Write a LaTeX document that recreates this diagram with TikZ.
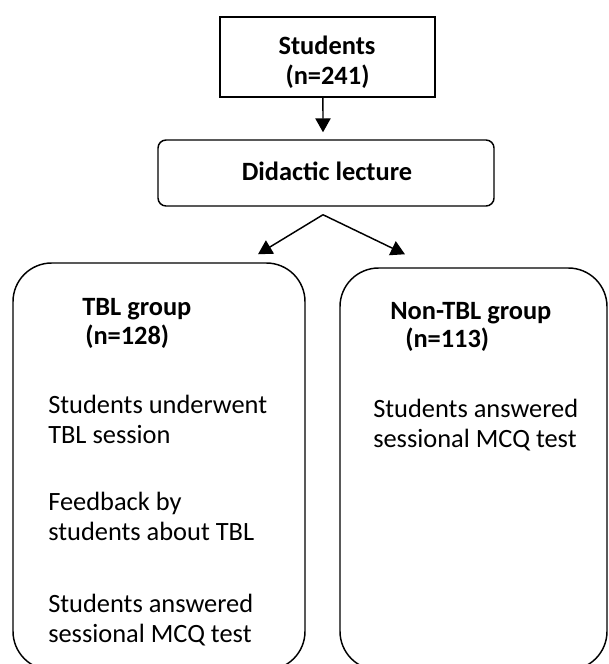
\documentclass[tikz,border=0pt]{standalone}
\usepackage{fontspec}
\setmainfont{Carlito}
\usetikzlibrary{arrows.meta}
\begin{document}
\begin{tikzpicture}[x=0.75pt,y=-0.75pt,
  box/.style={draw,line width=1.1pt,inner sep=0pt},
  txt/.style={anchor=base west,inner sep=0pt,font=\fontsize{19.8}{22.5}\selectfont},
  hd/.style={anchor=base west,inner sep=0pt,font=\fontsize{19.8}{22.5}\selectfont\bfseries},
  hdc/.style={hd,anchor=base},
  arr/.style={line width=1.1pt,-{Triangle[length=10.5pt,width=11.5pt]}}]
\useasboundingbox (0,0) rectangle (609,664);
\clip (0,0) rectangle (609,664);
% boxes
\node[box,minimum width=161.25pt,minimum height=60pt] (s) at (327.5,57) {};
\node[box,rounded corners=6pt,minimum width=252pt,minimum height=49.5pt] (d) at (326,173) {};
\node[box,rounded corners=29pt,minimum width=219pt,minimum height=305.25pt] (l) at (159,466.5) {};
\node[box,rounded corners=29pt,minimum width=200.25pt,minimum height=301.5pt] (r) at (473.5,469) {};
% texts
\node[hdc] (s1) at (327,54) {Students};
\node[hdc] (s2) at (327.5,84) {(n=241)};
\node[hdc] (d1) at (327,180) {Didactic lecture};
\node[hd] (l1) at (82,315) {TBL group};
\node[hd] (l2) at (85,344) {(n=128)};
\node[txt] (l3) at (48,413) {Students underwent};
\node[txt] (l4) at (48,443) {TBL session};
\node[txt] (l5) at (48,510) {Feedback by};
\node[txt] (l6) at (48,540) {students about TBL};
\node[txt] (l7) at (48,612) {Students answered};
\node[txt] (l8) at (48,642) {sessional MCQ test};
\node[hd] (r1) at (390,319) {Non-TBL group};
\node[hd] (r2) at (405,347) {(n=113)};
\node[txt] (r3) at (373,417) {Students answered};
\node[txt] (r4) at (373,447) {sessional MCQ test};
% connectors
\draw[arr] ([xshift=-3.4pt]s.south) -- ([xshift=-2.25pt,yshift=5.25pt]d.north);
\coordinate (ap) at ([xshift=-2.25pt,yshift=-6pt]d.south);
\draw[arr] (ap) -- ([xshift=74.25pt,yshift=6pt]l.north);
\draw[arr] (ap) -- ([xshift=-51.4pt,yshift=9.75pt]r.north);
\end{tikzpicture}
\end{document}
